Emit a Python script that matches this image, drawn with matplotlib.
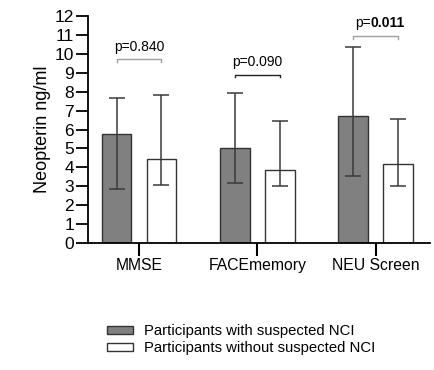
import matplotlib
matplotlib.use("Agg")
import matplotlib.pyplot as plt
import numpy as np
from matplotlib.patches import Patch

plt.rcParams["font.family"] = ["Liberation Sans", "DejaVu Sans"]

# ------------------------------------------------------
# Data
# ------------------------------------------------------
categories = ["MMSE", "FACEmemory", "NEU Screen"]
with_nci = [5.75, 5.0, 6.7]
with_nci_low = [2.85, 3.15, 3.55]
with_nci_high = [7.65, 7.95, 10.35]
without_nci = [4.45, 3.85, 4.2]
without_nci_low = [3.05, 3.0, 3.0]
without_nci_high = [7.8, 6.45, 6.55]
p_labels = ["0.840", "0.090", "0.011"]
p_bold = [False, False, True]
bracket_y = [9.7, 8.9, 10.95]
bracket_colors = ["#a0a0a0", "#222222", "#a0a0a0"]
legend_labels = ["Participants with suspected NCI", "Participants without suspected NCI"]

# ------------------------------------------------------
# Figure
# ------------------------------------------------------
fig = plt.figure(figsize=(4.34, 3.70), dpi=100)
ax = fig.add_axes([0.203, 0.343, 0.788, 0.614])

x = np.arange(len(categories))
off, w = 0.19, 0.25
edge = "#333333"

ax.bar(x - off, with_nci, w, color="#808080", edgecolor=edge, linewidth=1.0, zorder=2)
ax.bar(x + off, without_nci, w, color="white", edgecolor=edge, linewidth=1.0, zorder=2)

for xs, vals, lo, hi in [(x - off, with_nci, with_nci_low, with_nci_high),
                         (x + off, without_nci, without_nci_low, without_nci_high)]:
    vals = np.array(vals)
    yerr = [vals - np.array(lo), np.array(hi) - vals]
    ax.errorbar(xs, vals, yerr=yerr, fmt="none", ecolor="#3a3a3a",
                elinewidth=1.1, capsize=5.5, capthick=1.1, zorder=3)

# significance brackets
for i in range(len(categories)):
    x0, x1 = x[i] - off, x[i] + off
    y = bracket_y[i]
    ax.plot([x0, x0, x1, x1], [y - 0.15, y, y, y - 0.15],
            color=bracket_colors[i], lw=1.0, zorder=3)
    if p_bold[i]:
        ax.text(x[i] - 0.04, y + 0.3, "p=", ha="right", va="bottom", fontsize=10)
        ax.text(x[i] - 0.04, y + 0.3, p_labels[i], ha="left", va="bottom",
                fontsize=10, fontweight="bold")
    else:
        ax.text(x[i], y + 0.3, "p=" + p_labels[i], ha="center", va="bottom", fontsize=10)

ax.set_ylim(0, 12)
ax.set_xlim(-0.43, 2.46)
ax.set_yticks(range(0, 13))
ax.set_xticks(x)
ax.set_xticklabels(categories, fontsize=11.3)
ax.tick_params(axis="y", labelsize=12.5, length=9, width=1.3, pad=1)
ax.tick_params(axis="x", length=9, width=1.5, pad=2)
ax.set_ylabel("Neopterin ng/ml", fontsize=13, labelpad=3)

for s in ["top", "right"]:
    ax.spines[s].set_visible(False)
for s in ["left", "bottom"]:
    ax.spines[s].set_linewidth(1.3)

handles = [Patch(facecolor="#808080", edgecolor=edge, linewidth=1.0),
           Patch(facecolor="white", edgecolor=edge, linewidth=1.0)]
fig.legend(handles, legend_labels, loc="upper left", bbox_to_anchor=(0.237, 0.136),
           frameon=False, fontsize=10.7, handlelength=1.7, handleheight=0.47,
           handletextpad=0.75, labelspacing=0.2, borderaxespad=0, borderpad=0.3)

fig.savefig("out.png", dpi=100)
